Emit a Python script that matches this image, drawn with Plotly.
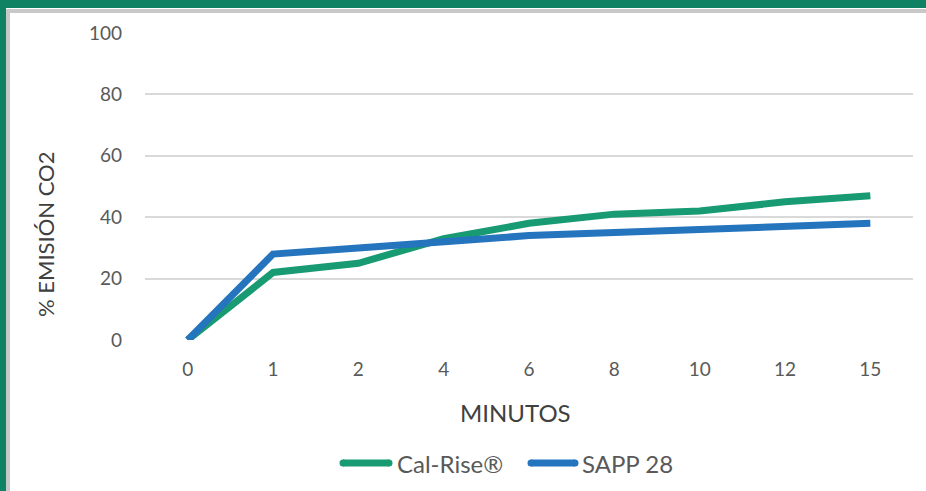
import plotly.graph_objects as go

categories = ["0", "1", "2", "4", "6", "8", "10", "12", "15"]
cal_rise = [0, 22, 25, 33, 38, 41, 42, 45, 47]
sapp_28 = [0, 28, 30, 32, 34, 35, 36, 37, 38]
y_ticks = [0, 20, 40, 60, 80, 100]
series_names = ["Cal-Rise®", "SAPP 28"]
series_colors = ["#189B72", "#2474BE"]

FONT = "Lato, sans-serif"
W, H = 926, 491
L, R, T, B = 145, 13, 33, 151
pw, ph = W - L - R, H - T - B

def px(x):
    return (x - L) / pw

def py(y):
    return (H - B - y) / ph

fig = go.Figure()
for name, vals, col in zip(series_names, [cal_rise, sapp_28], series_colors):
    fig.add_trace(go.Scatter(x=categories, y=vals, mode="lines", name=name,
                             line=dict(color=col, width=7), showlegend=False))

shapes = [
    dict(type="rect", xref="paper", yref="paper", x0=px(0), x1=px(W), y0=py(9), y1=py(13),
         fillcolor="#C8C8C8", line=dict(width=0), layer="below"),
    dict(type="rect", xref="paper", yref="paper", x0=px(6), x1=px(10), y0=py(H), y1=py(9),
         fillcolor="#C8C8C8", line=dict(width=0), layer="below"),
    dict(type="rect", xref="paper", yref="paper", x0=px(0), x1=px(W), y0=py(8), y1=py(0),
         fillcolor="#0E8262", line=dict(width=0), layer="below"),
    dict(type="rect", xref="paper", yref="paper", x0=px(0), x1=px(6), y0=py(H), y1=py(0),
         fillcolor="#0E8262", line=dict(width=0), layer="below"),
]

annotations = [
    dict(text="MINUTOS", xref="paper", yref="paper", x=px(515), y=py(412),
         showarrow=False, font=dict(family=FONT, size=24, color="#404040"),
         xanchor="center", yanchor="middle"),
    dict(text="% EMISIÓN CO2", xref="paper", yref="paper", x=px(45), y=py(235),
         showarrow=False, textangle=-90, font=dict(family=FONT, size=22, color="#404040"),
         xanchor="center", yanchor="middle"),
]

# manual legend
legend_items = [(340, 392, 395), (528, 578, 580)]
for (lx0, lx1, tx), name, col in zip(legend_items, series_names, series_colors):
    shapes.append(dict(type="line", xref="paper", yref="paper", x0=px(lx0 + 3), x1=px(lx1 - 3),
                       y0=py(463), y1=py(463), line=dict(color=col, width=7)))
    for cx in (lx0 + 3, lx1 - 3):
        shapes.append(dict(type="circle", xref="paper", yref="paper",
                           x0=px(cx - 3.5), x1=px(cx + 3.5), y0=py(466.5), y1=py(459.5),
                           fillcolor=col, line=dict(width=0)))
    annotations.append(dict(text=name, xref="paper", yref="paper", x=px(tx), y=py(463),
                            showarrow=False, xanchor="left", yanchor="middle",
                            font=dict(family=FONT, size=24, color="#595959")))

fig.update_layout(
    width=W, height=H,
    margin=dict(l=L, r=R, t=T, b=B, autoexpand=False),
    paper_bgcolor="white", plot_bgcolor="white",
    font=dict(family=FONT, color="#595959"),
    shapes=shapes, annotations=annotations,
    showlegend=False,
    xaxis=dict(type="category", range=[-0.5, 8.5], showgrid=False, zeroline=False,
               showline=False, ticks="", tickfont=dict(family=FONT, size=19, color="#595959"),
               ticklabelstandoff=16, automargin=False),
    yaxis=dict(range=[0, 100], tickvals=y_ticks, showgrid=True, gridcolor="#D9D9D9",
               gridwidth=1.5, zeroline=False, showline=False, ticks="",
               tickfont=dict(family=FONT, size=19, color="#595959"), ticklabelstandoff=22,
               automargin=False),
)

fig.write_html("out.html", config={"displayModeBar": False},
               post_script="document.body.style.margin='0px';")
